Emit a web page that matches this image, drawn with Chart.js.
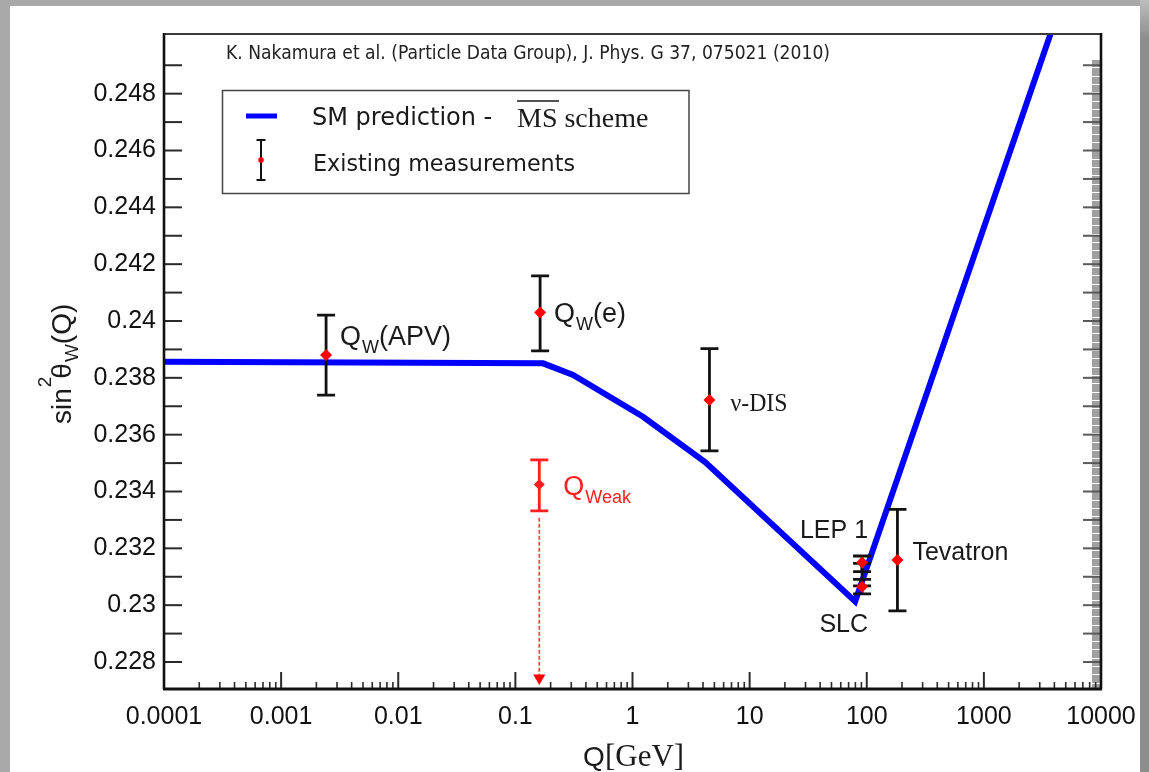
<!DOCTYPE html>
<html>
<head>
<meta charset="utf-8">
<title>sin2thetaW(Q)</title>
<script src="https://cdn.jsdelivr.net/npm/chart.js@4.4.1/dist/chart.umd.min.js"></script>
<style>
  html, body { margin: 0; padding: 0; }
  body { width: 1149px; height: 772px; background: #a9a9a9; position: relative; overflow: hidden; }
  #sheet { position: absolute; left: 10px; top: 6px; width: 1130px; height: 766px; background: #fff; }
  #edge { position: absolute; left: 1140px; top: 0; width: 9px; height: 772px; background: linear-gradient(#bdbdbd 0, #8c8c8c 40px, #8c8c8c 100%); }
  #c { position: absolute; left: 0; top: 0; }
</style>
</head>
<body>
<div id="sheet"></div>
<div id="edge"></div>
<canvas id="c" width="1149" height="772"></canvas>
<script>
// SM prediction (MS-bar)
const smQ = [0.0001, 0.1726, 0.311, 1.23, 4.17, 79.6, 4000];
const smS2W = [0.23857, 0.23851, 0.2381, 0.23663, 0.23504, 0.23013, 0.2505];

// existing measurements (null = bar only, no marker)
const measQ = [0.00242, 0.1626, 4.54, 91.19, 91.19, 91.19, 182.8];
const measS2W = [0.2388, 0.2403, 0.23722, 0.2315, null, 0.23065, 0.23159];
const measLow = [0.23739, 0.23895, 0.23543, 0.23118, 0.23068, 0.2304, 0.2298];
const measHigh = [0.24021, 0.24159, 0.23903, 0.23173, 0.23147, 0.23091, 0.23337];

// Qweak projection + arrow down to the axis
const qweakQ = [0.16];
const qweakS2W = [0.23425];
const qweakLow = [0.23332];
const qweakHigh = [0.23511];
const qweakArrowTo = [0.22744];

const xTicks = [0.0001, 0.001, 0.01, 0.1, 1, 10, 100, 1000, 10000];
const xTickLabels = ['0.0001', '0.001', '0.01', '0.1', '1', '10', '100', '1000', '10000'];
const yTicks = [0.228, 0.23, 0.232, 0.234, 0.236, 0.238, 0.24, 0.242, 0.244, 0.246, 0.248];
const yTickLabels = ['0.228', '0.23', '0.232', '0.234', '0.236', '0.238', '0.24', '0.242', '0.244', '0.246', '0.248'];

const SANS = '"Liberation Sans", Arial, Helvetica, sans-serif';
const SERIF = '"Liberation Serif", "Times New Roman", serif';
const DEJAVU = '"DejaVu Sans", sans-serif';

function errorBar(ctx, x, yLo, yHi, cap, color, width) {
    ctx.strokeStyle = color;
    ctx.lineWidth = width;
    ctx.beginPath();
    ctx.moveTo(x, yLo); ctx.lineTo(x, yHi);
    ctx.moveTo(x - cap / 2, yLo); ctx.lineTo(x + cap / 2, yLo);
    ctx.moveTo(x - cap / 2, yHi); ctx.lineTo(x + cap / 2, yHi);
    ctx.stroke();
}

// "Q" with a subscript and optional tail, e.g. Q_W(APV)
function qLabel(ctx, x, y, sub, rest, color) {
    ctx.fillStyle = color;
    ctx.textAlign = 'left';
    ctx.textBaseline = 'alphabetic';
    ctx.font = '27px ' + SANS;
    ctx.fillText('Q', x, y);
    const w = ctx.measureText('Q').width;
    ctx.font = '18px ' + SANS;
    ctx.fillText(sub, x + w + 1, y + 8);
    const w2 = ctx.measureText(sub).width;
    if (rest) {
        ctx.font = '27px ' + SANS;
        ctx.fillText(rest, x + w + 1 + w2, y);
    }
}

const decor = {
    id: 'decor',
    afterDatasetDraw(chart, args) {
        if (args.index !== 0) return;
        const ctx = chart.ctx, xs = chart.scales.x, ys = chart.scales.y;
        ctx.save();
        for (let i = 0; i < measQ.length; i++) {
            errorBar(ctx, xs.getPixelForValue(measQ[i]), ys.getPixelForValue(measLow[i]),
                ys.getPixelForValue(measHigh[i]), 18, '#111', 2.8);
        }
        const qx = xs.getPixelForValue(qweakQ[0]);
        errorBar(ctx, qx, ys.getPixelForValue(qweakLow[0]), ys.getPixelForValue(qweakHigh[0]), 18, '#ff1f1f', 2.8);
        ctx.strokeStyle = 'rgba(255,40,40,0.85)';
        ctx.lineWidth = 1.8;
        ctx.setLineDash([4, 2]);
        ctx.beginPath();
        ctx.moveTo(qx, ys.getPixelForValue(qweakLow[0]) + 7);
        ctx.lineTo(qx, ys.getPixelForValue(qweakArrowTo[0]));
        ctx.stroke();
        ctx.restore();
    },
    afterDatasetsDraw(chart) {
        const ctx = chart.ctx, xs = chart.scales.x, ys = chart.scales.y, a = chart.chartArea;
        ctx.save();
        // dense grey ticks on the right axis
        ctx.strokeStyle = '#a0a0a0';
        ctx.lineWidth = 1;
        ctx.beginPath();
        for (let k = 5677; k <= 6230; k++) {
            const y = Math.round(ys.getPixelForValue(k / 25000)) + 0.5;
            ctx.moveTo(a.right - 9, y); ctx.lineTo(a.right, y);
        }
        ctx.stroke();
        // y ticks, left (black) and right (grey)
        ctx.lineWidth = 2;
        for (let k = 228; k <= 249; k++) {
            const y = ys.getPixelForValue(k / 1000);
            ctx.strokeStyle = '#2a2a2a';
            ctx.beginPath(); ctx.moveTo(a.left, y); ctx.lineTo(a.left + 18, y); ctx.stroke();
            ctx.strokeStyle = '#5a5a5a';
            ctx.beginPath(); ctx.moveTo(a.right - 18, y); ctx.lineTo(a.right, y); ctx.stroke();
        }
        // x ticks, decades long, 2..9 short
        ctx.strokeStyle = '#2a2a2a';
        for (let d = -4; d <= 3; d++) {
            for (let m = 1; m <= 9; m++) {
                const x = xs.getPixelForValue(m * Math.pow(10, d));
                const len = m === 1 ? 17 : 7;
                ctx.lineWidth = m === 1 ? 2 : 1.6;
                ctx.beginPath(); ctx.moveTo(x, a.bottom); ctx.lineTo(x, a.bottom - len); ctx.stroke();
            }
        }
        // frame
        ctx.strokeStyle = '#3c3c3c'; ctx.lineWidth = 2;
        ctx.beginPath(); ctx.moveTo(a.left, a.top); ctx.lineTo(a.right, a.top); ctx.stroke();
        ctx.strokeStyle = '#111'; ctx.lineWidth = 2.6;
        ctx.beginPath(); ctx.moveTo(a.right, a.top - 1); ctx.lineTo(a.right, a.bottom); ctx.stroke();
        ctx.beginPath(); ctx.moveTo(a.left, a.top - 1); ctx.lineTo(a.left, a.bottom); ctx.stroke();
        ctx.lineWidth = 3;
        ctx.beginPath(); ctx.moveTo(a.left - 1, a.bottom); ctx.lineTo(a.right + 1, a.bottom); ctx.stroke();
        ctx.restore();
    },
    afterDraw(chart) {
        const ctx = chart.ctx, xs = chart.scales.x, ys = chart.scales.y;
        ctx.save();
        ctx.textAlign = 'left';
        ctx.textBaseline = 'alphabetic';

        // reference line at the top
        ctx.fillStyle = '#222';
        ctx.font = '19px ' + DEJAVU;
        ctx.fillText('K. Nakamura et al. (Particle Data Group), J. Phys. G 37, 075021 (2010)', 226, 59, 604);

        // legend
        ctx.strokeStyle = '#454545'; ctx.lineWidth = 1.5;
        ctx.strokeRect(222.5, 90.5, 466.5, 103);
        ctx.strokeStyle = '#0000ff'; ctx.lineWidth = 5;
        ctx.beginPath(); ctx.moveTo(246, 116); ctx.lineTo(277, 116); ctx.stroke();
        errorBar(ctx, 261, 140, 180, 9, '#111', 2);
        ctx.fillStyle = '#ff0000';
        ctx.beginPath(); ctx.arc(261, 160, 2.8, 0, Math.PI * 2); ctx.fill();
        ctx.fillStyle = '#1a1a1a';
        ctx.font = '24px ' + DEJAVU;
        ctx.fillText('SM prediction -', 312, 125, 183);
        ctx.font = '28px ' + SERIF;
        ctx.fillText('MS scheme', 517, 127, 139);
        ctx.strokeStyle = '#1a1a1a'; ctx.lineWidth = 1.5;
        ctx.beginPath(); ctx.moveTo(517, 101); ctx.lineTo(559, 101); ctx.stroke();
        ctx.font = '23px ' + DEJAVU;
        ctx.fillText('Existing measurements', 313, 171, 262);

        // point labels, placed from the measured points
        const px = i => xs.getPixelForValue(measQ[i]);
        const py = v => ys.getPixelForValue(v);
        qLabel(ctx, px(0) + 14, py(measS2W[0]) - 10, 'W', '(APV)', '#1a1a1a');
        qLabel(ctx, px(1) + 14, py(measS2W[1]) + 10, 'W', '(e)', '#1a1a1a');
        qLabel(ctx, xs.getPixelForValue(qweakQ[0]) + 24, py(qweakS2W[0]) + 11, 'Weak', '', '#ff2020');
        ctx.fillStyle = '#1a1a1a';
        ctx.font = '26px ' + SERIF;
        ctx.fillText('\u03bd-DIS', px(2) + 21, py(measS2W[2]) + 11, 57);
        ctx.font = '25px ' + SANS;
        ctx.textAlign = 'right';
        ctx.fillText('LEP 1', px(3) + 6, py(measHigh[3]) - 18);
        ctx.fillText('SLC', px(5) + 6, py(measLow[5]) + 38);
        ctx.textAlign = 'left';
        ctx.fillText('Tevatron', px(6) + 15, py(measS2W[6]) + 0.5);

        // x axis title: Q[GeV]
        ctx.font = '28px ' + SANS;
        ctx.fillText('Q', 583, 766);
        ctx.font = '31px ' + SERIF;
        ctx.fillText('[GeV]', 605, 766);

        // y axis title: sin^2 theta_W (Q), rotated
        ctx.translate(71, 424);
        ctx.rotate(-Math.PI / 2);
        let x = 0;
        ctx.font = '28px ' + SANS;
        ctx.fillText('sin', x, 0); x += ctx.measureText('sin').width + 1;
        ctx.font = '19px ' + SANS;
        ctx.fillText('2', x, -20); x += ctx.measureText('2').width - 2;
        ctx.font = '28px ' + SANS;
        ctx.fillText('\u03b8', x, 0); x += ctx.measureText('\u03b8').width + 1;
        ctx.font = '19px ' + SANS;
        ctx.fillText('W', x, 7); x += ctx.measureText('W').width;
        ctx.font = '28px ' + SANS;
        ctx.fillText('(Q)', x, 0);
        ctx.restore();
    }
};

const ctx = document.getElementById('c').getContext('2d');
const chart = new Chart(ctx, {
    type: 'scatter',
    data: {
        datasets: [
            {
                label: 'SM prediction',
                data: smQ.map((q, i) => ({ x: q, y: smS2W[i] })),
                showLine: true,
                borderColor: '#0000ff',
                borderWidth: 6,
                pointRadius: 0,
                tension: 0,
                clip: 0,
                order: 3
            },
            {
                label: 'Existing measurements',
                data: measQ.map((q, i) => ({ x: q, y: measS2W[i] })),
                pointStyle: 'rectRot',
                pointRadius: 6,
                backgroundColor: '#ff0000',
                borderWidth: 0,
                order: 1
            },
            {
                label: 'Qweak',
                data: qweakQ.map((q, i) => ({ x: q, y: qweakS2W[i] })),
                pointStyle: 'rectRot',
                pointRadius: 5.5,
                backgroundColor: '#ff1f1f',
                borderWidth: 0,
                order: 1
            },
            {
                label: 'Qweak arrow',
                data: qweakQ.map((q, i) => ({ x: q, y: qweakArrowTo[i] })),
                pointStyle: 'triangle',
                rotation: 180,
                pointRadius: 7,
                backgroundColor: '#ff0000',
                borderWidth: 0,
                order: 1
            }
        ]
    },
    options: {
        responsive: false,
        animation: false,
        devicePixelRatio: 1,
        layout: { padding: { left: 0, top: 34, right: 48, bottom: 0 } },
        plugins: { legend: { display: false }, tooltip: { enabled: false } },
        scales: {
            x: {
                type: 'logarithmic',
                min: 0.0001,
                max: 10000,
                afterBuildTicks: s => { s.ticks = xTicks.map(v => ({ value: v })); },
                afterFit: s => { s.height = 83; },
                grid: { display: false, drawTicks: false },
                border: { display: false },
                ticks: {
                    autoSkip: false,
                    maxRotation: 0,
                    padding: 13,
                    color: '#111',
                    font: { family: SANS, size: 25 },
                    callback: (v, i) => xTickLabels[i]
                }
            },
            y: {
                type: 'linear',
                min: 0.22705,
                max: 0.2501,
                afterBuildTicks: s => { s.ticks = yTicks.map(v => ({ value: v })); },
                afterFit: s => { s.width = 164; },
                grid: { display: false, drawTicks: false },
                border: { display: false },
                ticks: {
                    padding: 8,
                    color: '#111',
                    font: { family: SANS, size: 25 },
                    callback: (v, i) => yTickLabels[i]
                }
            }
        }
    },
    plugins: [decor]
});
</script>
</body>
</html>
